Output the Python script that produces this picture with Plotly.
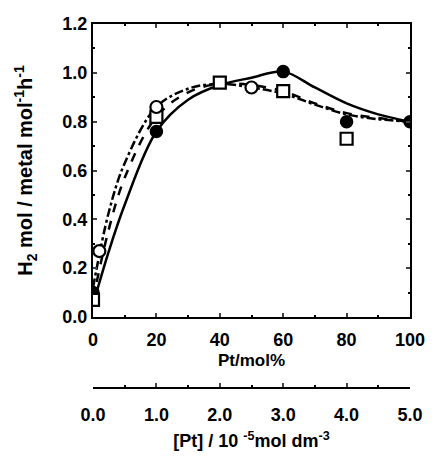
import plotly.graph_objects as go

# Measured points
pt_filled = [0, 20, 60, 80, 100]
h2_filled = [0.10, 0.76, 1.005, 0.80, 0.80]
pt_open = [2, 20, 50]
h2_open = [0.27, 0.86, 0.94]
pt_square = [0, 20, 40, 60, 80]
h2_square = [0.07, 0.82, 0.96, 0.925, 0.73]

# Fitted curves
curve_x = [0, 5, 10, 20, 30, 40, 50, 60, 70, 80, 90, 100]
curve_solid = [0.05, 0.27, 0.46, 0.76, 0.89, 0.95, 0.98, 1.005, 0.94, 0.875, 0.83, 0.80]
curve_dash = [0.07, 0.36, 0.57, 0.82, 0.92, 0.955, 0.95, 0.925, 0.875, 0.835, 0.815, 0.80]
curve_dashdot = [0.12, 0.43, 0.63, 0.86, 0.935, 0.955, 0.94, 0.915, 0.87, 0.83, 0.81, 0.80]

x_ticks = [0, 20, 40, 60, 80, 100]
conc_ticks = [0.0, 1.0, 2.0, 3.0, 4.0, 5.0]
y_ticks = [0.0, 0.2, 0.4, 0.6, 0.8, 1.0, 1.2]

FONT = "Liberation Sans"
tf = dict(family=FONT, size=18, color="black", weight="bold")
ttf = dict(family=FONT, size=17, color="black", weight="bold")

fig = go.Figure()
fig.add_trace(go.Scatter(x=curve_x, y=curve_solid, mode="lines", line=dict(color="black", width=2.5, shape="spline"), showlegend=False))
fig.add_trace(go.Scatter(x=curve_x, y=curve_dash, mode="lines", line=dict(color="black", width=2.5, shape="spline", dash="dash"), showlegend=False))
fig.add_trace(go.Scatter(x=curve_x, y=curve_dashdot, mode="lines", line=dict(color="black", width=2.5, shape="spline", dash="dashdot"), showlegend=False))
fig.add_trace(go.Scatter(x=pt_filled, y=h2_filled, mode="markers", marker=dict(symbol="circle", size=12, color="black", line=dict(color="black", width=1.5)), showlegend=False))
fig.add_trace(go.Scatter(x=pt_square, y=h2_square, mode="markers", marker=dict(symbol="square", size=12, color="white", line=dict(color="black", width=2.2)), showlegend=False))
fig.add_trace(go.Scatter(x=pt_open, y=h2_open, mode="markers", marker=dict(symbol="circle", size=12, color="white", line=dict(color="black", width=2.2)), showlegend=False))
fig.add_trace(go.Scatter(x=conc_ticks, y=[None]*len(conc_ticks), xaxis="x2", yaxis="y", mode="markers", showlegend=False, hoverinfo="skip"))

fig.update_layout(
    width=437, height=460,
    margin=dict(l=93, r=19, t=24, b=72),
    plot_bgcolor="white", paper_bgcolor="white",
    xaxis=dict(range=[0, 100], tickvals=x_ticks, ticks="inside", ticklen=4, tickwidth=1.5,
               showline=True, linewidth=2, linecolor="black", mirror="ticks", showgrid=False, zeroline=False,
               tickfont=tf, anchor="y", ticklabelstandoff=5,
               minor=dict(ticks="inside", ticklen=2, dtick=10, tickcolor="black"),
               title=dict(text="Pt/mol%", font=ttf, standoff=5)),
    xaxis2=dict(range=[0, 5], tickvals=conc_ticks, ticktext=[f"{v:.1f}" for v in conc_ticks],
                overlaying="x", anchor="free", position=0, side="bottom",
                ticks="inside", ticklen=4, tickwidth=1.5, showline=True, linewidth=2, linecolor="black",
                showgrid=False, zeroline=False, tickfont=tf, ticklabelstandoff=10,
                minor=dict(ticks="inside", ticklen=2, dtick=0.5, tickcolor="black"),
                title=dict(text="[Pt] / 10 <sup>-5</sup>mol dm<sup>-3</sup>", font=dict(family=FONT, size=18, color="black", weight="bold"), standoff=10)),
    yaxis=dict(range=[0, 1.2], tickvals=y_ticks, ticktext=[f"{v:.1f}" for v in y_ticks],
               domain=[0.195, 1], ticks="inside", ticklen=4, tickwidth=1.5,
               showline=True, linewidth=2, linecolor="black", mirror="ticks", showgrid=False, zeroline=False,
               tickfont=tf,
               minor=dict(ticks="inside", ticklen=2, dtick=0.1, tickcolor="black"),
               title=dict(text="H<sub>2</sub> mol / metal mol<sup>-1</sup>h<sup>-1</sup>", font=dict(family=FONT, size=20, color="black", weight="bold"), standoff=24)),
)

fig.write_html("out.html", config={"displayModeBar": False},
               post_script="document.body.style.margin='0';document.body.style.overflow='hidden';")
